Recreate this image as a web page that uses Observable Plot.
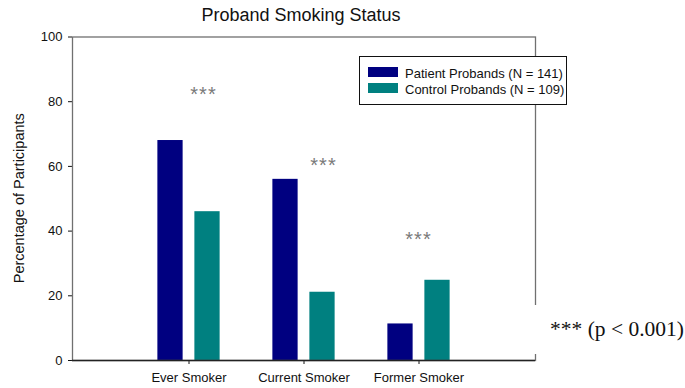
<!DOCTYPE html>
<html>
<head>
<meta charset="utf-8">
<script src="https://cdn.jsdelivr.net/npm/d3@7"></script>
<script src="https://cdn.jsdelivr.net/npm/@observablehq/plot@0.6"></script>
<style>
  body { margin: 0; background: #fff; }
  #chart svg { display: block; }
</style>
</head>
<body>
<div id="chart"></div>
<script>
// Proband smoking status: percentage of participants by group
const categories = ["Ever Smoker", "Current Smoker", "Former Smoker"];
const groups = ["Patient Probands (N = 141)", "Control Probands (N = 109)"];
const patientValues = [68, 56, 11.3];
const controlValues = [46, 21.1, 24.8];
const groupColors = ["#000080", "#008080"];
const yTicks = [0, 20, 40, 60, 80, 100];
const significance = ["***", "***", "***"];
const chartTitle = "Proband Smoking Status";
const yAxisLabel = "Percentage of Participants";
const footnote = "*** (p < 0.001)";

const rows = categories.flatMap((category, i) => [
  { category, group: groups[0], value: patientValues[i] },
  { category, group: groups[1], value: controlValues[i] }
]);

// layout
const W = 685, H = 388;
const mL = 72, mR = 150, mT = 36.5, mB = 28;
const step = (W - mL - mR) / (categories.length + 1); // band width with half-band outer padding
const barW = 26, gap = 11, half = step / 2;
const insetNear = half - gap / 2 - barW;
const insetFar = half + gap / 2;

// where each significance marker sits (percent level and horizontal shift)
const starLevel = [82.3, 60.3, 37.5];
const starShift = [14.5, 19.5, -0.5];

const marks = [
  Plot.barY(rows.filter(d => d.group === groups[0]), {
    x: "category", y: "value", fill: groupColors[0],
    insetLeft: insetNear, insetRight: insetFar
  }),
  Plot.barY(rows.filter(d => d.group === groups[1]), {
    x: "category", y: "value", fill: groupColors[1],
    insetLeft: insetFar, insetRight: insetNear
  }),
  Plot.frame({ stroke: "#707070", strokeWidth: 1.3 }),
  Plot.ruleY([0], { stroke: "#222", strokeWidth: 1.3 }),
  ...categories.map((category, i) => Plot.text([{ category, level: starLevel[i], label: significance[i] }], {
    x: "category", y: "level", text: "label", dx: starShift[i],
    fill: "#7a7a7a", fontSize: 20
  }))
];

const plot = Plot.plot({
  width: W, height: H,
  marginLeft: mL, marginRight: mR, marginTop: mT, marginBottom: mB,
  style: { fontFamily: "Liberation Sans, Arial, sans-serif", fontSize: "13px", color: "#111", background: "#fff" },
  x: { type: "band", domain: categories, paddingInner: 0, paddingOuter: 0.5, tickSize: 4, tickPadding: 8, label: null },
  y: { domain: [0, 100], ticks: yTicks, tickSize: 4, tickPadding: 6, label: null },
  marks
});

document.getElementById("chart").appendChild(plot);

const svg = d3.select(plot);
svg.selectAll('g[aria-label="text"] text').attr("letter-spacing", "1px");

// title
svg.append("text")
  .attr("x", 301).attr("y", 21)
  .attr("text-anchor", "middle")
  .attr("font-size", 18)
  .attr("fill", "#111")
  .text(chartTitle);

// y axis title
svg.append("text")
  .attr("transform", `translate(23.5,${(mT + H - mB) / 2}) rotate(-90)`)
  .attr("text-anchor", "middle")
  .attr("font-size", 14.5)
  .attr("fill", "#111")
  .text(yAxisLabel);

// legend
const legend = svg.append("g").attr("font-size", 13).attr("text-anchor", "start");
legend.append("rect")
  .attr("x", 359.5).attr("y", 56.5).attr("width", 207).attr("height", 48)
  .attr("fill", "#fff").attr("stroke", "#111");
groups.forEach((g, i) => {
  legend.append("rect")
    .attr("x", 368).attr("y", 67 + i * 16).attr("width", 30).attr("height", 10)
    .attr("fill", groupColors[i]);
  legend.append("text")
    .attr("x", 405).attr("y", 78 + i * 16)
    .attr("fill", "#111")
    .text(g);
});

// significance footnote box
svg.append("rect")
  .attr("x", 530).attr("y", 305).attr("width", 155).attr("height", 49)
  .attr("fill", "#fff");
svg.append("text")
  .attr("x", 550).attr("y", 335.5)
  .attr("text-anchor", "start")
  .attr("font-family", "Liberation Serif, Times New Roman, serif")
  .attr("font-size", 21.5)
  .attr("fill", "#111")
  .text(footnote);
</script>
</body>
</html>
